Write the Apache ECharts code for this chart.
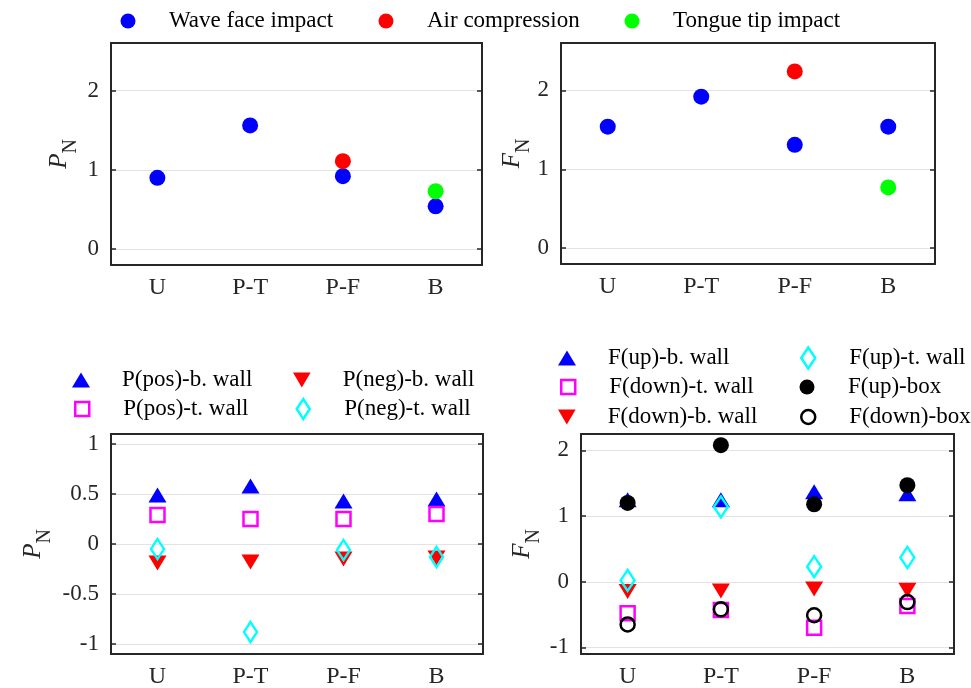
<!DOCTYPE html>
<html><head><meta charset="utf-8">
<script src="https://cdn.jsdelivr.net/npm/echarts@6/dist/echarts.min.js"></script>
<style>html,body{margin:0;padding:0;background:#fff}#c{width:971px;height:688px}</style>
</head><body><div id="c"></div>
<script>
// ---------------- data ----------------
const categories = ['U', 'P-T', 'P-F', 'B'];
// top-left: P_N
const pnWaveFace = [0.90, 1.56, 0.92, 0.54];
const pnAirComp = [null, null, 1.11, null];
const pnTongueTip = [null, null, null, 0.73];
// top-right: F_N
const fnWaveFace = [1.54, 1.92, 1.31, 1.54];
const fnAirComp = [null, null, 2.24, null];
const fnTongueTip = [null, null, null, 0.77];
// bottom-left: P_N
const pPosBWall = [0.49, 0.58, 0.43, 0.45];
const pPosTWall = [0.29, 0.25, 0.25, 0.30];
const pNegBWall = [-0.19, -0.18, -0.15, -0.14];
const pNegTWall = [-0.05, -0.88, -0.06, -0.13];
// bottom-right: F_N
const fUpBWall = [1.25, 1.25, 1.37, 1.34];
const fDownTWall = [-0.48, -0.43, -0.70, -0.37];
const fDownBWall = [-0.15, -0.14, -0.11, -0.13];
const fUpTWall = [0.02, 1.14, 0.23, 0.37];
const fUpBox = [1.20, 2.08, 1.18, 1.47];
const fDownBox = [-0.65, -0.42, -0.51, -0.31];
// axis ranges
const yRangeTop = [-0.2, 2.6];
const yRangeBL = [-1.1, 1.1];
const yRangeBR = [-1.1, 2.25];

// ---------------- styling ----------------
const FONT = "'Liberation Serif', 'Times New Roman', serif";
const AX = '#262626';
const DOWN_TRI = 'path://M0,0L20,0L10,17Z';
const grids = [
  {left: 111, top: 43, width: 371, height: 222},
  {left: 561, top: 43, width: 374, height: 221},
  {left: 111, top: 434, width: 372, height: 220},
  {left: 581, top: 434, width: 373, height: 220}
].map(g => Object.assign({outerBoundsMode: 'none', containLabel: false}, g));

const yRanges = [yRangeTop, yRangeTop, yRangeBL, yRangeBR];
const ySplit = [3, 3, 4, 3];
const yNames = ['{i|P}{s|N}', '{i|F}{s|N}', '{i|P}{s|N}', '{i|F}{s|N}'];
const yGaps = [39, 28, 65, 46];

const richName = {
  i: {fontFamily: FONT, fontStyle: 'italic', fontSize: 25, lineHeight: 25, verticalAlign: 'top', color: AX},
  s: {fontFamily: FONT, fontSize: 20, lineHeight: 20, padding: [22, 0, 0, 0], color: AX}
};

const xAxes = [], yAxes = [];
for (let i = 0; i < 4; i++) {
  xAxes.push({
    type: 'category', gridIndex: i, data: categories, boundaryGap: true, position: 'bottom',
    axisLine: {onZero: false, lineStyle: {color: AX, width: 2}},
    axisTick: {inside: true, alignWithLabel: true, length: 5, lineStyle: {color: AX, width: 1.5}},
    axisLabel: {fontFamily: FONT, fontSize: 24, color: AX, margin: 11},
    splitLine: {show: false}
  });
  yAxes.push({
    type: 'value', gridIndex: i, min: yRanges[i][0], max: yRanges[i][1], splitNumber: ySplit[i], position: 'left',
    name: yNames[i], nameLocation: 'middle', nameRotate: 90, nameGap: yGaps[i],
    nameTextStyle: {rich: richName},
    axisLine: {show: true, onZero: false, lineStyle: {color: AX, width: 2}},
    axisTick: {show: true, inside: true, length: 5, lineStyle: {color: AX, width: 1.5}},
    axisLabel: {fontFamily: FONT, fontSize: 23, color: AX, margin: 12, showMinLabel: false, showMaxLabel: false},
    splitLine: {show: true, lineStyle: {color: '#e3e3e3', width: 1}}
  });
}
for (let i = 0; i < 4; i++) {
  xAxes.push({
    type: 'category', gridIndex: i, data: categories, boundaryGap: true, position: 'top',
    axisLine: {onZero: false, lineStyle: {color: AX, width: 2}},
    axisTick: {inside: true, alignWithLabel: true, length: 5, lineStyle: {color: AX, width: 1.5}},
    axisLabel: {show: false}, splitLine: {show: false}
  });
  yAxes.push({
    type: 'value', gridIndex: i, min: yRanges[i][0], max: yRanges[i][1], splitNumber: ySplit[i], position: 'right',
    axisLine: {show: true, onZero: false, lineStyle: {color: AX, width: 2}},
    axisTick: {show: true, inside: true, length: 5, lineStyle: {color: AX, width: 1.5}},
    axisLabel: {show: false}, splitLine: {show: false}
  });
}

function sc(name, data, gi, symbol, size, fill, stroke, bw) {
  return {
    type: 'scatter', name: name, xAxisIndex: gi, yAxisIndex: gi, data: data,
    symbol: symbol, symbolSize: size, silent: true,
    itemStyle: {color: fill, borderColor: stroke, borderWidth: bw, opacity: 1},
    emphasis: {disabled: true}
  };
}
const NONE = 'rgba(0,0,0,0)';
const BW = 2.5;
const series = [
  sc('Wave face impact', pnWaveFace, 0, 'circle', 16, '#0000ff', '#0000ff', 0),
  sc('Air compression', pnAirComp, 0, 'circle', 16, '#ff0000', '#ff0000', 0),
  sc('Tongue tip impact', pnTongueTip, 0, 'circle', 16, '#00ff00', '#00ff00', 0),
  sc('Wave face impact', fnWaveFace, 1, 'circle', 16, '#0000ff', '#0000ff', 0),
  sc('Air compression', fnAirComp, 1, 'circle', 16, '#ff0000', '#ff0000', 0),
  sc('Tongue tip impact', fnTongueTip, 1, 'circle', 16, '#00ff00', '#00ff00', 0),

  sc('P(pos)-b. wall', pPosBWall, 2, 'triangle', [18, 15], '#0000ff', '#0000ff', 0),
  sc('P(pos)-t. wall', pPosTWall, 2, 'rect', 14, NONE, '#ff00ff', BW),
  sc('P(neg)-b. wall', pNegBWall, 2, DOWN_TRI, [18, 15], '#ff0000', '#ff0000', 0),
  sc('P(neg)-t. wall', pNegTWall, 2, 'diamond', [13, 20], NONE, '#00ffff', BW),

  sc('F(up)-b. wall', fUpBWall, 3, 'triangle', [18, 15], '#0000ff', '#0000ff', 0),
  sc('F(down)-t. wall', fDownTWall, 3, 'rect', 14, NONE, '#ff00ff', BW),
  sc('F(down)-b. wall', fDownBWall, 3, DOWN_TRI, [18, 15], '#ff0000', '#ff0000', 0),
  sc('F(up)-t. wall', fUpTWall, 3, 'diamond', [14, 21], NONE, '#00ffff', BW),
  sc('F(up)-box', fUpBox, 3, 'circle', 16, '#000000', '#000000', 0),
  sc('F(down)-box', fDownBox, 3, 'circle', 14, NONE, '#000000', BW)
];

function lg(name, cx, cy, w, h, icon, fill, stroke, bw) {
  return {
    data: [{name: name, icon: icon}], left: cx - w / 2, top: cy - 13, orient: 'horizontal',
    itemWidth: w, itemHeight: h, padding: 0, selectedMode: false,
    itemStyle: {color: fill, borderColor: stroke, borderWidth: bw},
    textStyle: {fontFamily: FONT, fontSize: 23, color: '#000', lineHeight: 26, padding: [0, 0, 0, 36 - w / 2]}
  };
}
const legends = [
  lg('Wave face impact', 128, 21, 15, 15, 'circle', '#0000ff', '#0000ff', 0),
  lg('Air compression', 386, 21, 15, 15, 'circle', '#ff0000', '#ff0000', 0),
  lg('Tongue tip impact', 632, 21, 15, 15, 'circle', '#00ff00', '#00ff00', 0),

  lg('P(pos)-b. wall', 81, 380, 18, 15, 'triangle', '#0000ff', '#0000ff', 0),
  lg('P(neg)-b. wall', 302, 380, 18, 15, DOWN_TRI, '#ff0000', '#ff0000', 0),
  lg('P(pos)-t. wall', 81, 409, 14, 14, 'rect', NONE, '#ff00ff', BW),
  lg('P(neg)-t. wall', 302, 409, 13, 20, 'diamond', NONE, '#00ffff', BW),

  lg('F(up)-b. wall', 567, 358, 18, 15, 'triangle', '#0000ff', '#0000ff', 0),
  lg('F(down)-t. wall', 567, 387, 14, 14, 'rect', NONE, '#ff00ff', BW),
  lg('F(down)-b. wall', 567, 417, 18, 15, DOWN_TRI, '#ff0000', '#ff0000', 0),
  lg('F(up)-t. wall', 807, 358, 14, 21, 'diamond', NONE, '#00ffff', BW),
  lg('F(up)-box', 807, 387, 15, 15, 'circle', '#000000', '#000000', 0),
  lg('F(down)-box', 807, 417, 14, 14, 'circle', NONE, '#000000', BW)
];

const chart = echarts.init(document.getElementById('c'), null, {renderer: 'canvas'});
chart.setOption({
  backgroundColor: '#ffffff',
  animation: false,
  grid: grids,
  xAxis: xAxes,
  yAxis: yAxes,
  legend: legends,
  series: series
});
</script>
</body></html>
